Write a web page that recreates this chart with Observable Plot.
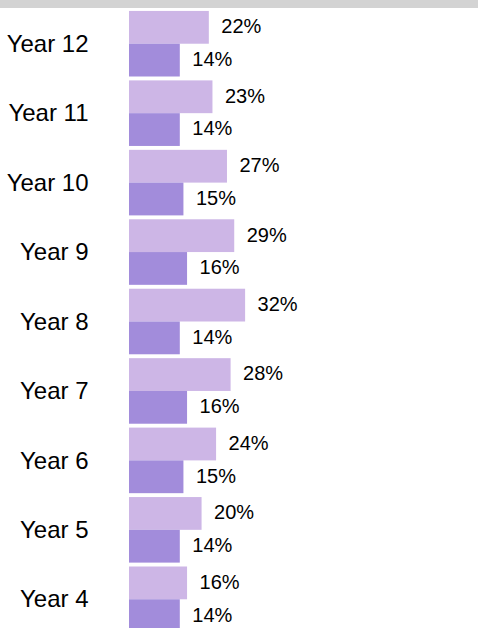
<!DOCTYPE html>
<html>
<head>
<meta charset="utf-8">
<script src="https://cdn.jsdelivr.net/npm/d3@7"></script>
<script src="https://cdn.jsdelivr.net/npm/@observablehq/plot@0.6"></script>
<style>
  html, body { margin: 0; padding: 0; overflow: hidden; background: #fff; }
  #band { height: 8px; width: 478px; background: #d3d3d3; }
  #chart svg { display: block; }
</style>
</head>
<body>
<div id="band"></div>
<div id="chart"></div>
<script>
const years = ["Year 12", "Year 11", "Year 10", "Year 9", "Year 8", "Year 7", "Year 6", "Year 5", "Year 4"];
const lightValues = [22, 23, 27, 29, 32, 28, 24, 20, 16];
const darkValues = [14, 14, 15, 16, 14, 16, 15, 14, 14];
const series = ["light", "dark"];
const seriesColors = ["#cdb6e6", "#a28cdb"];

const rows = [];
years.forEach((year, i) => {
  rows.push({year, series: "light", value: lightValues[i]});
  rows.push({year, series: "dark", value: darkValues[i]});
});

const chart = Plot.plot({
  width: 478,
  height: 626,
  marginLeft: 129,
  marginRight: 222,
  marginTop: 1,
  marginBottom: 0,
  style: {fontFamily: "'Liberation Sans', Arial, sans-serif", fontSize: "24px", color: "#000", background: "#fff"},
  x: {domain: [0, 35], axis: null},
  y: {domain: series, padding: 0, axis: null, round: false},
  fy: {domain: years, paddingInner: 0.056, paddingOuter: 0.028, label: null, round: false},
  color: {domain: series, range: seriesColors},
  marks: [
    Plot.axisFy({anchor: "left", tickSize: 0, tickPadding: 41, label: null, fill: "#000"}),
    Plot.barX(rows, {x: "value", y: "series", fy: "year", fill: "series"}),
    Plot.text(rows, {x: "value", y: "series", fy: "year", text: d => d.value + "%", textAnchor: "start", dx: 12, dy: -1, fontSize: 20, fill: "#000"})
  ]
});
document.getElementById("chart").appendChild(chart);
</script>
</body>
</html>
